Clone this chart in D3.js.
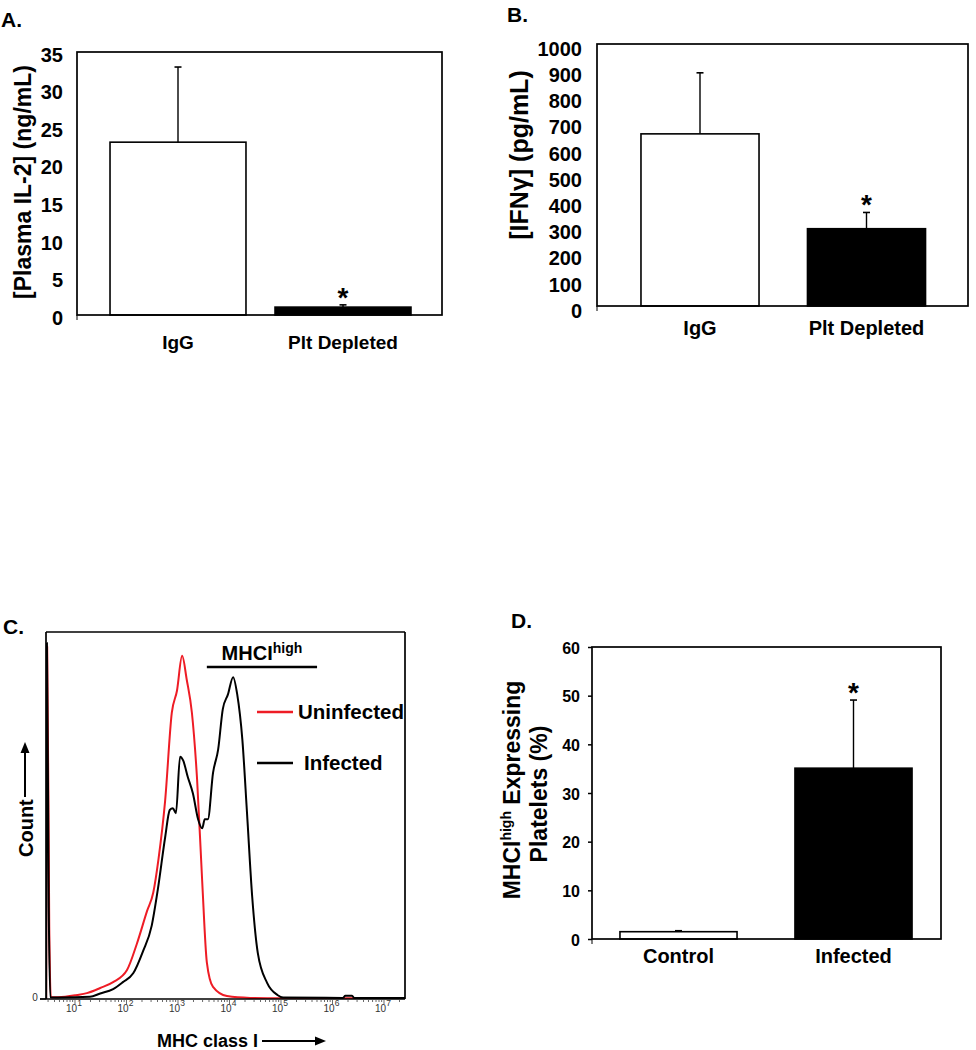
<!DOCTYPE html>
<html><head><meta charset="utf-8">
<script src="https://cdn.jsdelivr.net/npm/d3@7/dist/d3.min.js"></script>
<style>
body{margin:0;background:#fff}
text{font-family:"Liberation Sans",Arial,Helvetica,sans-serif;font-weight:bold;fill:#000}
</style>
</head><body>
<svg id="c" width="976" height="1050"></svg>
<script>
// ---------- DATA ----------
// Panel A
const aCategories = ["IgG", "Plt Depleted"];
const aMeans = [23.0, 1.05];
const aErrors = [10.0, 0.3];
const aTicks = [0, 5, 10, 15, 20, 25, 30, 35];
const aSignificant = [false, true];
// Panel B
const bCategories = ["IgG", "Plt Depleted"];
const bMeans = [657, 295];
const bErrors = [233, 62];
const bTicks = [0, 100, 200, 300, 400, 500, 600, 700, 800, 900, 1000];
const bSignificant = [false, true];
// Panel C (log10 of fluorescence, relative count)
const uninfectedLog = [0.44, 0.46, 0.50, 0.53, 0.67, 1.04, 1.23, 1.49, 1.74, 2.01, 2.20, 2.40, 2.52, 2.62, 2.75, 2.88, 2.98, 3.08, 3.17, 3.27, 3.37, 3.47, 3.56, 3.68, 3.95, 4.40, 5.00, 7.50];
const uninfectedCount = [0, 96, 20, 0.5, 0.5, 1.1, 1.6, 3.0, 4.6, 7.9, 15, 24, 29, 38, 54, 78, 84, 93.5, 87, 78, 60, 32, 10, 3.3, 0.8, 0.3, 0.2, 0.2];
const infectedLog = [0.44, 0.455, 0.49, 0.52, 0.71, 1.29, 1.49, 1.74, 1.93, 2.13, 2.32, 2.49, 2.61, 2.75, 2.84, 2.90, 2.96, 3.04, 3.10, 3.19, 3.29, 3.39, 3.47, 3.52, 3.58, 3.68, 3.78, 3.87, 3.97, 4.07, 4.15, 4.25, 4.34, 4.44, 4.55, 4.73, 4.93, 5.04, 6.20, 6.25, 6.38, 6.42, 7.50];
const infectedCount = [0, 97, 25, 0.5, 0.4, 0.6, 1.5, 2.7, 4.6, 7, 13, 20, 30, 44, 51.5, 52, 50.6, 66, 65, 60.5, 56, 49, 46.5, 49, 49, 61.6, 68, 79, 83, 87.7, 83, 70.6, 50.7, 28, 12.5, 4.4, 1.1, 0.4, 0.3, 0.9, 0.9, 0.3, 0.3];
const cLegendLabels = ["Uninfected", "Infected"];
const cColors = ["#ee1c25", "#000000"];
const cDecades = [1, 2, 3, 4, 5, 6, 7];
const cGate = [Math.pow(10, 3.56), Math.pow(10, 5.70)];
// Panel D
const dCategories = ["Control", "Infected"];
const dMeans = [1.5, 35.1];
const dErrors = [0.2, 14.0];
const dTicks = [0, 10, 20, 30, 40, 50, 60];
const dSignificant = [false, true];

// ---------- DRAW ----------
const svg = d3.select("#c");

function barPanel(o) {
  const g = svg.append("g");
  const y = d3.scaleLinear().domain([0, o.yMax]).range([o.bottom, o.top]);
  const x = d3.scaleBand().domain(o.cats).range(o.band).paddingInner(o.pad).paddingOuter(o.pad / 2);
  g.selectAll("rect.bar").data(o.cats).join("rect").attr("class", "bar")
    .attr("x", d => x(d)).attr("width", x.bandwidth())
    .attr("y", (d, i) => y(o.means[i])).attr("height", (d, i) => o.bottom - y(o.means[i]))
    .attr("fill", (d, i) => o.fills[i]).attr("stroke", "#000").attr("stroke-width", 1.6);
  o.cats.forEach((d, i) => {
    const cx = x(d) + x.bandwidth() / 2;
    const top = y(o.means[i] + o.errs[i]);
    g.append("line").attr("x1", cx).attr("x2", cx).attr("y1", y(o.means[i])).attr("y2", top)
      .attr("stroke", "#000").attr("stroke-width", 1.4);
    g.append("line").attr("x1", cx - 3.5).attr("x2", cx + 3.5).attr("y1", top).attr("y2", top)
      .attr("stroke", "#000").attr("stroke-width", 1.6);
    if (o.sig[i]) {
      g.append("text").attr("x", cx).attr("y", top + 2).attr("text-anchor", "middle")
        .attr("font-size", 28).text("*");
    }
    g.append("text").attr("x", cx).attr("y", o.xLabelY).attr("text-anchor", "middle")
      .attr("font-size", o.xFont).text(d);
  });
  g.append("rect").attr("x", o.left).attr("y", o.top).attr("width", o.right - o.left)
    .attr("height", o.bottom - o.top).attr("fill", "none").attr("stroke", "#000").attr("stroke-width", 1.7);
  g.append("line").attr("x1", o.left).attr("x2", o.left).attr("y1", o.bottom).attr("y2", o.bottom + 5)
    .attr("stroke", "#000").attr("stroke-width", 1);
  const ax = g.append("g").attr("transform", `translate(${o.left},0)`)
    .call(d3.axisLeft(y).tickValues(o.ticks).tickFormat(d3.format("d")).tickSize(o.tickLen).tickSizeOuter(0).tickPadding(o.tickPad));
  ax.select(".domain").remove();
  ax.attr("font-size", o.tickFont).attr("font-family", null);
  ax.selectAll("line").attr("stroke", "#000").attr("stroke-width", 1.5);
  ax.selectAll("text").attr("dy", null).attr("y", o.tickDy).attr("dominant-baseline", "middle");
  g.append("text").attr("x", o.letterX).attr("y", o.letterY).attr("font-size", 21).text(o.letter);
  return g;
}

// Panel A
const gA = barPanel({
  cats: aCategories, means: aMeans, errs: aErrors, ticks: aTicks, sig: aSignificant, yMax: 35,
  left: 77, right: 442, top: 52, bottom: 315, band: [95.5, 425.5], pad: 0.176,
  fills: ["#fff", "#000"], tickLen: 0, tickPad: 14, tickFont: 20, tickDy: 4,
  xLabelY: 349, xFont: 19, letter: "A.", letterX: 1, letterY: 27
});
gA.append("text").attr("transform", "translate(31,182) rotate(-90)").attr("text-anchor", "middle")
  .attr("font-size", 23).text("[Plasma IL-2] (ng/mL)");

// Panel B
const gB = barPanel({
  cats: bCategories, means: bMeans, errs: bErrors, ticks: bTicks, sig: bSignificant, yMax: 1000,
  left: 597, right: 968, top: 44, bottom: 306, band: [616.75, 949.75], pad: 0.291,
  fills: ["#fff", "#000"], tickLen: 0, tickPad: 15, tickFont: 20, tickDy: 6,
  xLabelY: 335, xFont: 20, letter: "B.", letterX: 507, letterY: 22
});
gB.append("text").attr("transform", "translate(528,155) rotate(-90)").attr("text-anchor", "middle")
  .attr("font-size", 25).text("[IFNγ] (pg/mL)");

// Panel D
const gD = barPanel({
  cats: dCategories, means: dMeans, errs: dErrors, ticks: dTicks, sig: dSignificant, yMax: 60,
  left: 592, right: 941, top: 647, bottom: 939, band: [591, 941], pad: 0.331,
  fills: ["#fff", "#000"], tickLen: 4, tickPad: 8, tickFont: 16, tickDy: 2,
  xLabelY: 963, xFont: 20, letter: "D.", letterX: 511, letterY: 628
});
const dLab = gD.append("text").attr("transform", "translate(520,790) rotate(-90)").attr("text-anchor", "middle").attr("font-size", 23);
dLab.append("tspan").text("MHCI");
dLab.append("tspan").attr("font-size", 14).attr("dy", -9).text("high");
dLab.append("tspan").attr("dy", 9).text(" Expressing");
gD.append("text").attr("transform", "translate(547,794) rotate(-90)").attr("text-anchor", "middle")
  .attr("font-size", 23).text("Platelets (%)");

// Panel C
(function () {
  const g = svg.append("g");
  const left = 46, right = 405, top = 632, bottom = 999;
  const x = d3.scaleLog().domain([Math.pow(10, 0.437), Math.pow(10, 1 + (405 - 75) / 51.5)]).range([left, right]);
  const y = d3.scaleLinear().domain([0, 100]).range([bottom, top]);
  g.append("defs").append("clipPath").attr("id", "clipC").append("rect")
    .attr("x", left).attr("y", top).attr("width", right - left).attr("height", bottom - top);
  const line = d3.line().x(d => x(Math.pow(10, d[0]))).y(d => y(d[1])).curve(d3.curveMonotoneX);
  const series = [d3.zip(uninfectedLog, uninfectedCount), d3.zip(infectedLog, infectedCount)];
  g.append("g").attr("clip-path", "url(#clipC)").selectAll("path").data(series).join("path")
    .attr("d", line).attr("fill", "none").attr("stroke", (d, i) => cColors[i]).attr("stroke-width", 2)
    .attr("stroke-linejoin", "round");
  g.append("line").attr("x1", left).attr("x2", right).attr("y1", top).attr("y2", top).attr("stroke", "#000").attr("stroke-width", 1.7);
  g.append("line").attr("x1", left).attr("x2", left).attr("y1", top).attr("y2", bottom).attr("stroke", "#000").attr("stroke-width", 1.7);
  g.append("line").attr("x1", right).attr("x2", right).attr("y1", top).attr("y2", bottom).attr("stroke", "#000").attr("stroke-width", 1.7);
  g.append("line").attr("x1", 40).attr("x2", right).attr("y1", bottom).attr("y2", bottom).attr("stroke", "#000").attr("stroke-width", 1.7);
  const minor = [];
  for (let k = 0; k <= 7; k++) for (let m = 1; m <= 9; m++) {
    const v = m * Math.pow(10, k);
    if (v >= x.domain()[0] && v <= x.domain()[1]) minor.push({ v, major: m === 1 });
  }
  g.selectAll("line.tk").data(minor).join("line").attr("class", "tk")
    .attr("x1", d => x(d.v)).attr("x2", d => x(d.v)).attr("y1", bottom).attr("y2", d => bottom + (d.major ? 5 : 3))
    .attr("stroke", "#444").attr("stroke-width", 0.8);
  const labs = g.selectAll("text.tl").data(cDecades.filter(k => Math.pow(10, k) <= x.domain()[1])).join("text").attr("class", "tl")
    .attr("x", d => x(Math.pow(10, d)) - 1).attr("y", 1012).attr("text-anchor", "middle")
    .style("font-weight", "normal").style("fill", "#333").attr("font-size", 10);
  labs.append("tspan").text("10");
  labs.append("tspan").attr("dy", -6).attr("font-size", 8.5).text(d => d);
  g.append("text").attr("x", 35).attr("y", 1001).attr("text-anchor", "middle").style("font-weight", "normal")
    .style("fill", "#333").attr("font-size", 10).text("0");
  g.append("line").attr("x1", 40).attr("x2", left).attr("y1", bottom).attr("y2", bottom).attr("stroke", "#000");
  g.append("line").attr("x1", x(cGate[0])).attr("x2", x(cGate[1])).attr("y1", 667).attr("y2", 667)
    .attr("stroke", "#000").attr("stroke-width", 2.6);
  const gt = g.append("text").attr("x", (x(cGate[0]) + x(cGate[1])) / 2).attr("y", 660).attr("text-anchor", "middle").attr("font-size", 20);
  gt.append("tspan").text("MHCI");
  gt.append("tspan").attr("font-size", 14).attr("dy", -7).text("high");
  cLegendLabels.forEach((lab, i) => {
    const ly = [712, 763][i];
    g.append("line").attr("x1", 257).attr("x2", 293).attr("y1", ly).attr("y2", ly).attr("stroke", cColors[i]).attr("stroke-width", 2.6);
    g.append("text").attr("x", [298, 304][i]).attr("y", ly + 7).attr("font-size", 20.5).text(lab);
  });
  g.append("text").attr("transform", "translate(33,857) rotate(-90)").attr("font-size", 20).text("Count");
  g.append("line").attr("x1", 25).attr("x2", 25).attr("y1", 797).attr("y2", 750).attr("stroke", "#000").attr("stroke-width", 2);
  g.append("path").attr("d", "M25,742 L20.5,753 L29.5,753 Z").attr("fill", "#000");
  g.append("text").attr("x", 157).attr("y", 1047).attr("font-size", 18).text("MHC class I");
  g.append("line").attr("x1", 262).attr("x2", 317).attr("y1", 1041).attr("y2", 1041).attr("stroke", "#000").attr("stroke-width", 2);
  g.append("path").attr("d", "M326,1041 L315,1036.5 L315,1045.5 Z").attr("fill", "#000");
  g.append("text").attr("x", 3).attr("y", 634).attr("font-size", 21).text("C.");
})();
</script>
</body></html>
